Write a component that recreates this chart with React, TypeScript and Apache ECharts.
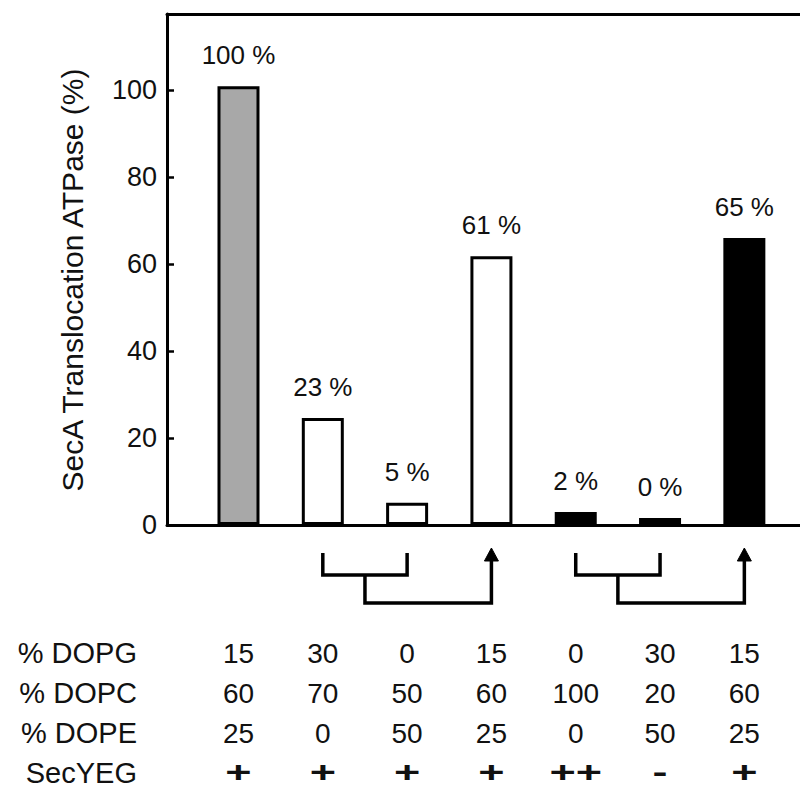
import React, { useEffect, useRef } from "react";
import * as echarts from "echarts";

const positions = [1, 2, 3, 4, 5, 6, 7];
const activity = [100.9, 24.6, 5.1, 61.8, 3.0, 1.6, 66.0];
const barLabels = ["100 %", "23 %", "5 %", "61 %", "2 %", "0 %", "65 %"];
const barFills = ["#a8a8a8", "#ffffff", "#ffffff", "#ffffff", "#000000", "#000000", "#000000"];
const yTicks = [0, 20, 40, 60, 80, 100];
const yTitle = "SecA Translocation ATPase (%)";

const rowNames = ["% DOPG", "% DOPC", "% DOPE", "SecYEG"];
const dopg = ["15", "30", "0", "15", "0", "30", "15"];
const dopc = ["60", "70", "50", "60", "100", "20", "60"];
const dope = ["25", "0", "50", "25", "0", "50", "25"];
const secyeg = ["+", "+", "+", "+", "++", "-", "+"];

// bracket groups: two conditions joined, compared with a target condition
const brackets = [
  { a: 2, b: 3, target: 4 },
  { a: 5, b: 6, target: 7 },
];

const FONT = "Liberation Sans, Arial, Helvetica, sans-serif";

export default function App() {
  const ref = useRef<HTMLDivElement>(null);
  useEffect(() => {
    const chart = echarts.init(ref.current!, null, { renderer: "svg" });
    const xMin = 0.152;
    const xMax = 7.66;
    const option: any = {
      animation: false,
      backgroundColor: "#ffffff",
      grid: { left: 167, right: 0, top: 14, bottom: 263, containLabel: false },
      xAxis: [
        {
          type: "value",
          min: xMin,
          max: xMax,
          position: "bottom",
          axisLine: { show: true, lineStyle: { color: "#000", width: 3 } },
          axisTick: { show: false },
          axisLabel: { show: false },
          splitLine: { show: false },
        },
        {
          type: "value",
          min: xMin,
          max: xMax,
          position: "top",
          axisLine: { show: true, lineStyle: { color: "#000", width: 3 } },
          axisTick: { show: false },
          axisLabel: { show: false },
          splitLine: { show: false },
        },
      ],
      yAxis: {
        type: "value",
        min: yTicks[0],
        max: 117.5,
        interval: yTicks[1] - yTicks[0],
        axisLine: { show: true, lineStyle: { color: "#000", width: 3 } },
        axisTick: { show: true, inside: true, length: 7, lineStyle: { color: "#000", width: 2.5 } },
        axisLabel: {
          fontFamily: FONT,
          fontSize: 27,
          color: "#111",
          margin: 10,
          showMaxLabel: false,
        },
        splitLine: { show: false },
      },
      series: [
        {
          type: "bar",
          xAxisIndex: 0,
          barWidth: 42,
          data: positions.map((p, i) => ({
            value: [p, activity[i]],
            itemStyle: { color: barFills[i], borderColor: "#000", borderWidth: 3 },
          })),
          label: {
            show: true,
            position: "top",
            distance: 18,
            fontFamily: FONT,
            fontSize: 26,
            color: "#111",
            formatter: (p: any) => barLabels[p.dataIndex],
          },
        },
      ],
    };
    chart.setOption(option);

    const px = (pos: number) => chart.convertToPixel({ xAxisIndex: 0 }, pos) as number;
    const graphics: any[] = [];
    const lineStyle = { stroke: "#000", lineWidth: 3.5, fill: null };
    brackets.forEach((br) => {
      const xa = px(br.a);
      const xb = px(br.b);
      const xm = (xa + xb) / 2;
      const xt = px(br.target);
      graphics.push({
        type: "polyline",
        shape: { points: [[xa, 553], [xa, 575], [xb, 575], [xb, 553]] },
        style: lineStyle,
      });
      graphics.push({
        type: "polyline",
        shape: { points: [[xm, 575], [xm, 603], [xt, 603], [xt, 552]] },
        style: lineStyle,
      });
      graphics.push({
        type: "polygon",
        shape: { points: [[xt - 7, 561], [xt, 548], [xt + 7, 561]] },
        style: { fill: "#000", stroke: "#000", lineWidth: 1 },
      });
    });

    graphics.push({
      type: "text",
      x: 72,
      y: 280,
      rotation: Math.PI / 2,
      style: {
        text: yTitle,
        fontFamily: FONT,
        fontSize: 30,
        fill: "#111",
        align: "center",
        verticalAlign: "middle",
      },
    });

    const rows = [dopg, dopc, dope, secyeg];
    const rowY = [653, 693, 733, 771];
    rows.forEach((row, r) => {
      graphics.push({
        type: "text",
        x: 137,
        y: r === 3 ? 773 : rowY[r],
        style: {
          text: rowNames[r],
          fontFamily: FONT,
          fontSize: 29,
          lineHeight: 28,
          fill: "#111",
          align: "right",
          verticalAlign: "middle",
        },
      });
      row.forEach((v, i) => {
        const isSign = r === 3;
        graphics.push({
          type: "text",
          x: px(positions[i]),
          y: rowY[r],
          scaleX: isSign ? 1.5 : 1,
          style: {
            text: v,
            fontFamily: FONT,
            fontSize: isSign ? 30 : 28,
            lineHeight: isSign ? 24 : 28,
            fontWeight: isSign ? "bold" : "normal",
            fill: "#111",
            align: "center",
            verticalAlign: "middle",
          },
        });
      });
    });
    chart.setOption({ graphic: graphics });

    return () => chart.dispose();
  }, []);
  return (
    <div
      ref={ref}
      style={{ position: "absolute", left: 0, top: 0, width: 800, height: 788 }}
    />
  );
}
